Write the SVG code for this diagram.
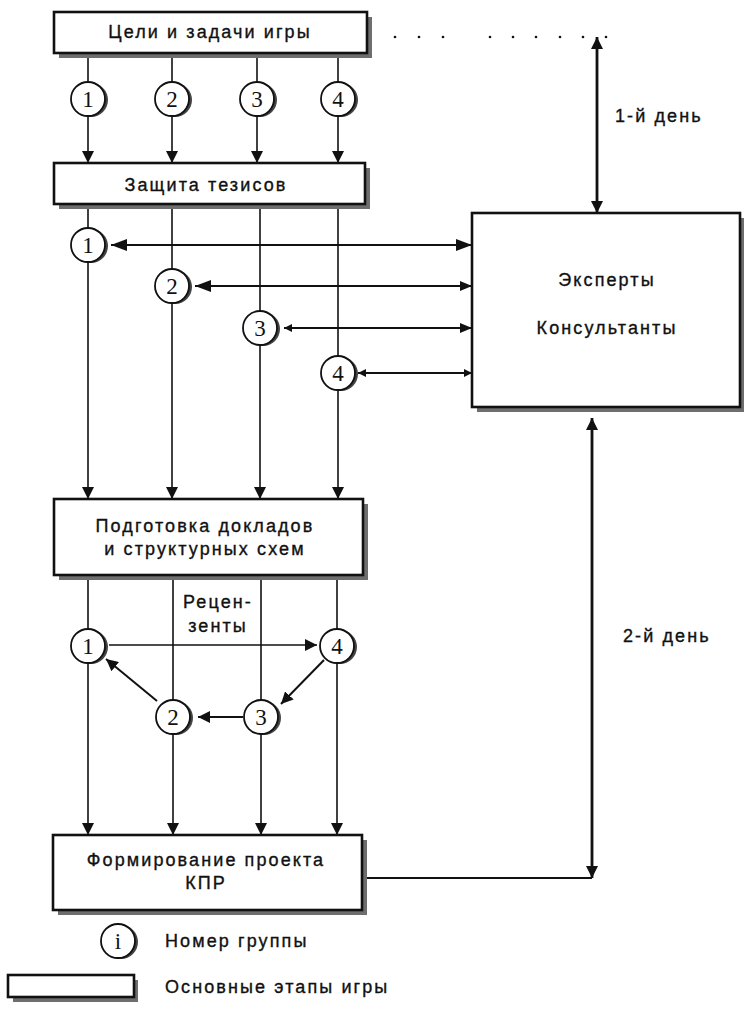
<svg xmlns="http://www.w3.org/2000/svg" width="744" height="1024" viewBox="0 0 744 1024">
<style>
.t{font-family:"Liberation Sans",Arial,sans-serif;font-size:18px;letter-spacing:2.1px;fill:#111;stroke:#111;stroke-width:0.35}
.m{text-anchor:middle}
.n{font-family:"Liberation Serif","Times New Roman",serif;font-size:23px;fill:#111;text-anchor:middle}
.box{fill:#fff;stroke:#111;stroke-width:2.6}
.sh{fill:#6e6e6e}
.cs{fill:#444}
.c{fill:#fff;stroke:#111;stroke-width:1.8}
.l{stroke:#111;stroke-width:1.6;fill:none}
.l2{stroke:#111;stroke-width:2;fill:none}
.l3{stroke:#111;stroke-width:2.8;fill:none}
</style>
<defs>
<marker id="a" viewBox="0 0 12 12" refX="12" refY="6" markerWidth="12" markerHeight="12" markerUnits="userSpaceOnUse" orient="auto-start-reverse"><path d="M0,0L12,6L0,12z" fill="#111"/></marker>
<marker id="ab" viewBox="0 0 16 12" refX="16" refY="6" markerWidth="16" markerHeight="12" markerUnits="userSpaceOnUse" orient="auto-start-reverse"><path d="M0,0L16,6L0,12z" fill="#111"/></marker>
<marker id="am" viewBox="0 0 12 10" refX="12" refY="5" markerWidth="12" markerHeight="10" markerUnits="userSpaceOnUse" orient="auto-start-reverse"><path d="M0,0L12,5L0,10z" fill="#111"/></marker>
<marker id="as" viewBox="0 0 8 8" refX="8" refY="4" markerWidth="8" markerHeight="8" markerUnits="userSpaceOnUse" orient="auto-start-reverse"><path d="M0,0L8,4L0,8z" fill="#111"/></marker>
</defs>

<g id="connectors">
  <line class="l" x1="88" y1="56" x2="88" y2="163" marker-end="url(#a)"/>
  <line class="l" x1="172" y1="56" x2="172" y2="163" marker-end="url(#a)"/>
  <line class="l" x1="257" y1="56" x2="257" y2="163" marker-end="url(#a)"/>
  <line class="l" x1="338" y1="56" x2="338" y2="163" marker-end="url(#a)"/>
  <line class="l" x1="88" y1="207" x2="88" y2="499" marker-end="url(#a)"/>
  <line class="l" x1="172" y1="207" x2="172" y2="499" marker-end="url(#a)"/>
  <line class="l" x1="260" y1="207" x2="260" y2="499" marker-end="url(#a)"/>
  <line class="l" x1="338" y1="207" x2="338" y2="499" marker-end="url(#a)"/>
  <line class="l2" x1="111" y1="245" x2="472" y2="245" marker-start="url(#ab)" marker-end="url(#ab)"/>
  <line class="l2" x1="195" y1="286" x2="472" y2="286" marker-start="url(#ab)" marker-end="url(#am)"/>
  <line class="l2" x1="284" y1="328" x2="472" y2="328" marker-start="url(#as)" marker-end="url(#am)"/>
  <line class="l2" x1="358" y1="373" x2="472" y2="373" marker-start="url(#as)" marker-end="url(#as)"/>
  <line class="l" x1="88" y1="578" x2="88" y2="835" marker-end="url(#a)"/>
  <line class="l" x1="173" y1="578" x2="173" y2="835" marker-end="url(#a)"/>
  <line class="l" x1="261" y1="578" x2="261" y2="835" marker-end="url(#a)"/>
  <line class="l" x1="337" y1="578" x2="337" y2="835" marker-end="url(#a)"/>
  <line class="l" x1="109" y1="645" x2="317" y2="645" marker-end="url(#a)"/>
  <line class="l2" x1="324" y1="660" x2="281" y2="704" marker-end="url(#a)"/>
  <line class="l2" x1="243" y1="717" x2="198" y2="717" marker-end="url(#a)"/>
  <line class="l2" x1="157" y1="701" x2="106" y2="659" marker-end="url(#a)"/>
  <line class="l3" x1="597" y1="37" x2="597" y2="213" marker-start="url(#a)" marker-end="url(#a)"/>
  <line class="l3" x1="592" y1="418" x2="592" y2="878" marker-start="url(#a)" marker-end="url(#a)"/>
  <line class="l2" x1="367" y1="878" x2="592" y2="878"/>
  <g fill="#111">
    <circle cx="395" cy="37" r="1.3"/><circle cx="419" cy="37" r="1.3"/><circle cx="443" cy="37" r="1.3"/>
    <circle cx="490" cy="37" r="1.3"/><circle cx="513" cy="37" r="1.3"/><circle cx="536" cy="37" r="1.3"/>
    <circle cx="560" cy="37" r="1.3"/><circle cx="583" cy="37" r="1.3"/><circle cx="606" cy="37" r="1.3"/>
  </g>
</g>

<g id="box-goals">
  <rect class="sh" x="59" y="17" width="313" height="41"/>
  <rect class="box" x="54" y="12" width="313" height="41"/>
  <text class="t m" x="210" y="38">Цели и задачи игры</text>
</g>
<g id="box-defense">
  <rect class="sh" x="59" y="168" width="311" height="41"/>
  <rect class="box" x="54" y="163" width="311" height="41"/>
  <text class="t m" x="206" y="191">Защита тезисов</text>
</g>
<g id="box-experts">
  <rect class="sh" x="477" y="218" width="267" height="194"/>
  <rect class="box" x="472" y="213" width="268" height="194"/>
  <text class="t m" x="607" y="286">Эксперты</text>
  <text class="t m" x="607" y="334">Консультанты</text>
</g>
<g id="box-prep">
  <rect class="sh" x="59" y="504" width="309" height="76"/>
  <rect class="box" x="54" y="499" width="309" height="76"/>
  <text class="t m" x="205" y="532">Подготовка докладов</text>
  <text class="t m" x="205" y="555">и структурных схем</text>
</g>
<g id="box-form">
  <rect class="sh" x="58" y="840" width="309" height="75"/>
  <rect class="box" x="53" y="835" width="309" height="75"/>
  <text class="t m" x="206" y="866">Формирование проекта</text>
  <text class="t m" x="206" y="889">КПР</text>
</g>

<g id="groups-row1">
  <circle class="cs" cx="91" cy="100" r="17"/><circle class="c" cx="88" cy="99" r="17"/><text class="n" x="88" y="107">1</text>
  <circle class="cs" cx="175" cy="100" r="17"/><circle class="c" cx="172" cy="99" r="17"/><text class="n" x="172" y="107">2</text>
  <circle class="cs" cx="260" cy="100" r="17"/><circle class="c" cx="257" cy="99" r="17"/><text class="n" x="257" y="107">3</text>
  <circle class="cs" cx="341" cy="100" r="17"/><circle class="c" cx="338" cy="99" r="17"/><text class="n" x="338" y="107">4</text>
</g>
<g id="groups-row2">
  <circle class="cs" cx="91" cy="246" r="17"/><circle class="c" cx="88" cy="245" r="17"/><text class="n" x="88" y="253">1</text>
  <circle class="cs" cx="175" cy="287" r="17"/><circle class="c" cx="172" cy="286" r="17"/><text class="n" x="172" y="294">2</text>
  <circle class="cs" cx="263" cy="329" r="17"/><circle class="c" cx="260" cy="328" r="17"/><text class="n" x="260" y="336">3</text>
  <circle class="cs" cx="341" cy="374" r="17"/><circle class="c" cx="338" cy="373" r="17"/><text class="n" x="338" y="381">4</text>
</g>
<g id="groups-row3">
  <circle class="cs" cx="91" cy="647" r="17"/><circle class="c" cx="88" cy="646" r="17"/><text class="n" x="88" y="654">1</text>
  <circle class="cs" cx="340" cy="647" r="17"/><circle class="c" cx="337" cy="646" r="17"/><text class="n" x="337" y="654">4</text>
  <circle class="cs" cx="176" cy="718" r="17"/><circle class="c" cx="173" cy="717" r="17"/><text class="n" x="173" y="725">2</text>
  <circle class="cs" cx="264" cy="718" r="17"/><circle class="c" cx="261" cy="717" r="17"/><text class="n" x="261" y="725">3</text>
</g>

<g id="labels">
  <text class="t" x="615" y="122">1-й день</text>
  <text class="t" x="623" y="642">2-й день</text>
  <text class="t m" x="218" y="608">Рецен-</text>
  <text class="t m" x="218" y="632">зенты</text>
</g>

<g id="legend">
  <circle class="cs" cx="121" cy="942" r="17"/><circle class="c" cx="118" cy="941" r="17"/><text class="n" x="118" y="949">i</text>
  <text class="t" x="165" y="947">Номер группы</text>
  <rect class="sh" x="13" y="980" width="125" height="22"/>
  <rect class="box" x="8" y="975" width="126" height="22"/>
  <text class="t" x="165" y="993">Основные этапы игры</text>
</g>
</svg>
